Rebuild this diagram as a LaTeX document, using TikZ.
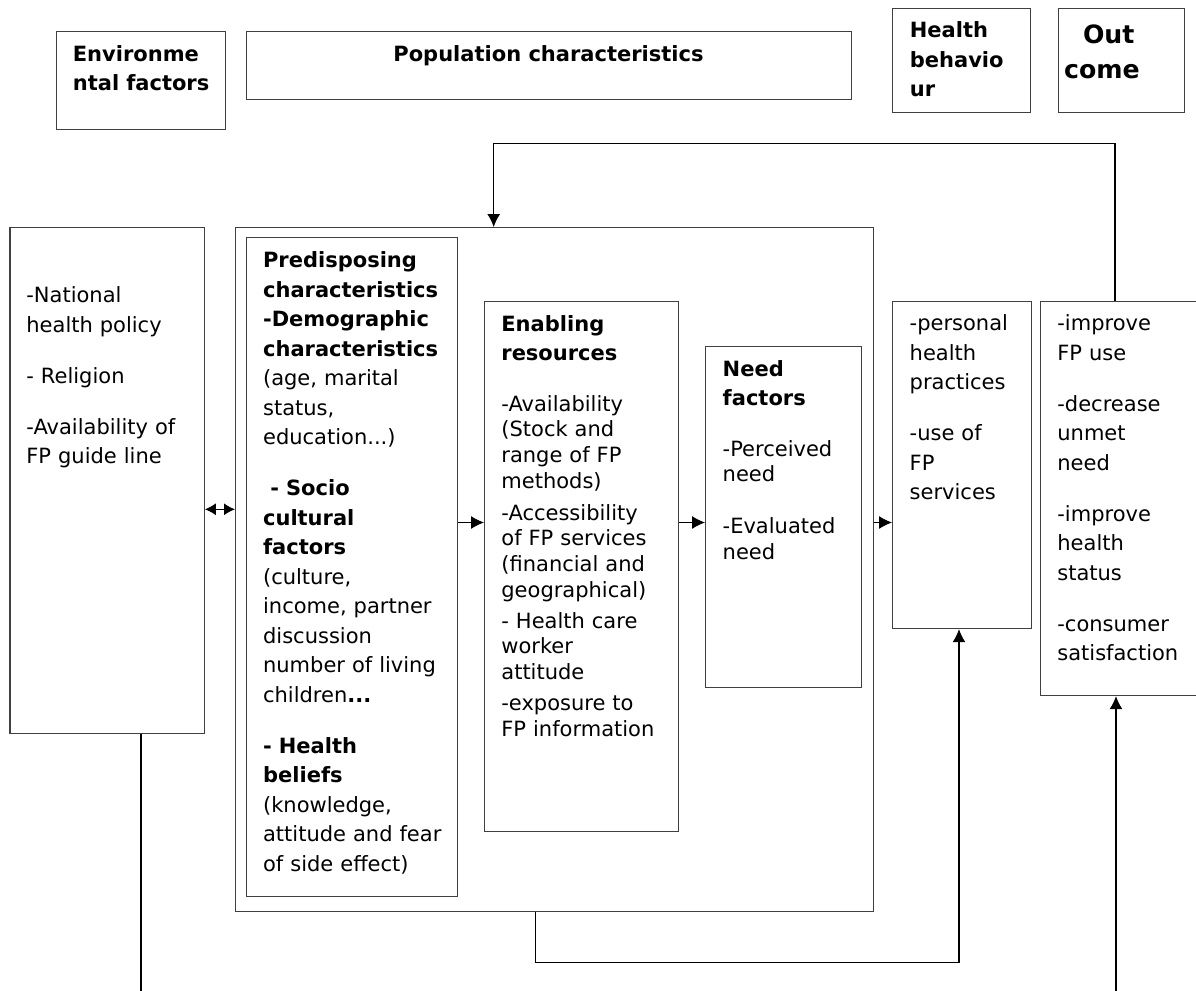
\documentclass[tikz,border=0pt]{standalone}
\usepackage{fontspec}
\setmainfont{DejaVu Sans}
\usetikzlibrary{arrows.meta}
\begin{document}
\begin{tikzpicture}[x=0.5pt,y=-0.5pt,
  box/.style={draw=black!75,line width=0.6pt,anchor=north west,inner sep=0pt},
  txt/.style={anchor=base west,inner sep=0pt,text width=120pt,align=left,
    font=\fontsize{10.5pt}{14.75pt}\selectfont},
  tight/.style={font=\fontsize{10.5pt}{12.85pt}\selectfont},
  head/.style={txt,font=\bfseries\fontsize{10.5pt}{14.75pt}\selectfont},
  link/.style={line width=0.55pt},
  arr/.style={link,-{Latex[length=6.5pt,width=6.5pt]}},
  dbl/.style={link,{Latex[length=5.5pt,width=6pt]}-{Latex[length=5.5pt,width=6pt]}}]
  \useasboundingbox (0,0) rectangle (1196,991);
  % header row
  \node[box,minimum width=84.5pt,minimum height=49pt] (envh) at (55.5,31) {};
  \node[head] (envht) at (72.5,61) {Environme\\ntal factors};
  \node[box,minimum width=302.5pt,minimum height=34pt] (poph) at (246,31) {};
  \node[anchor=base,inner sep=0pt,font=\bfseries\fontsize{10.5pt}{14.75pt}\selectfont]
    (popht) at (548.5,61) {Population characteristics};
  \node[box,minimum width=69.25pt,minimum height=52pt] (hbh) at (891.5,8) {};
  \node[head] (hbht) at (909.5,37.5) {Health\\behavio\\ur};
  \node[box,minimum width=63pt,minimum height=52pt] (outh) at (1058,8) {};
  \node[head,font=\bfseries\fontsize{12.6pt}{17.5pt}\selectfont]
    (outht) at (1063.8,43.3) {\hspace*{9.4pt}Out\\come};
  % environmental factors
  \node[box,minimum width=97.2pt,minimum height=253pt] (env) at (9.3,227) {};
  \node[txt] (envt) at (26,302.7) {-National\\health policy\\[10.75pt]- Religion\\[10.75pt]-Availability of\\FP guide line};
  % population characteristics
  \node[box,minimum width=319pt,minimum height=342pt] (main) at (235,227) {};
  \node[box,minimum width=105.5pt,minimum height=329.5pt] (pred) at (246,237) {};
  \node[txt] (predt) at (262.7,267.7) {\textbf{Predisposing}\\\textbf{characteristics}\\
    \textbf{-Demographic}\\\textbf{characteristics}\\(age, marital\\status,\\education...)\\[10.75pt]
    \hspace*{3.65pt}\textbf{- Socio}\\\textbf{cultural}\\\textbf{factors}\\(culture,\\income, partner\\
    discussion\\number of living\\children\textbf{...}\\[10.75pt]
    \textbf{- Health}\\\textbf{beliefs}\\(knowledge,\\attitude and fear\\of side effect)};
  \node[box,minimum width=97pt,minimum height=265pt] (enab) at (484,301) {};
  \node[txt,tight] (enabt) at (501,331.7) {\textbf{Enabling}\\[1.5pt]\textbf{resources}\\[12.45pt]
    -Availability\\(Stock and\\range of FP\\methods)\\[3.2pt]
    -Accessibility\\of FP services\\(financial and\\geographical)\\[2.6pt]
    - Health care\\worker\\attitude\\[2.5pt]-exposure to\\FP information};
  \node[box,minimum width=78pt,minimum height=170.5pt] (need) at (705,346) {};
  \node[txt,tight] (needt) at (722.3,376) {\textbf{Need}\\[1.65pt]\textbf{factors}\\[12.65pt]
    -Perceived\\need\\[12.95pt]-Evaluated\\need};
  % health behaviour and outcome
  \node[box,minimum width=69.5pt,minimum height=163.5pt] (hbeh) at (892,301) {};
  \node[txt] (hbeht) at (909.3,330.7) {-personal\\health\\practices\\[10.75pt]-use of\\FP\\services};
  \node[box,minimum width=80pt,minimum height=197pt] (outc) at (1040,301) {};
  \node[txt] (outct) at (1057,330.7) {-improve\\FP use\\[10.75pt]-decrease\\unmet\\need\\[10.75pt]
    -improve\\health\\status\\[10.75pt]-consumer\\satisfaction};
  % connectors
  \coordinate (dblrow) at (0,509.3);
  \coordinate (flow) at (0,522.5);
  \coordinate (fbl) at (493.7,143.3);
  \coordinate (fbr) at (1115,143.3);
  \coordinate (envend) at (141,991);
  \coordinate (loopl) at (535.5,962.3);
  \coordinate (loopr) at (959,962.3);
  \coordinate (outend) at (1116,991);
  \draw[dbl] (env.east |- dblrow) -- (main.west |- dblrow);
  \draw[arr] (pred.east |- flow) -- (enab.west |- flow);
  \draw[arr] (enab.east |- flow) -- (need.west |- flow);
  \draw[arr] (main.east |- flow) -- (hbeh.west |- flow);
  \draw[arr] (outc.north -| fbr) -- (fbr) -- (fbl) -- (main.north -| fbl);
  \draw[link] (env.south -| envend) -- (envend);
  \draw[arr] (main.south -| loopl) -- (loopl) -- (loopr) -- (hbeh.south -| loopr);
  \draw[arr] (outend) -- (outc.south -| outend);
\end{tikzpicture}
\end{document}
